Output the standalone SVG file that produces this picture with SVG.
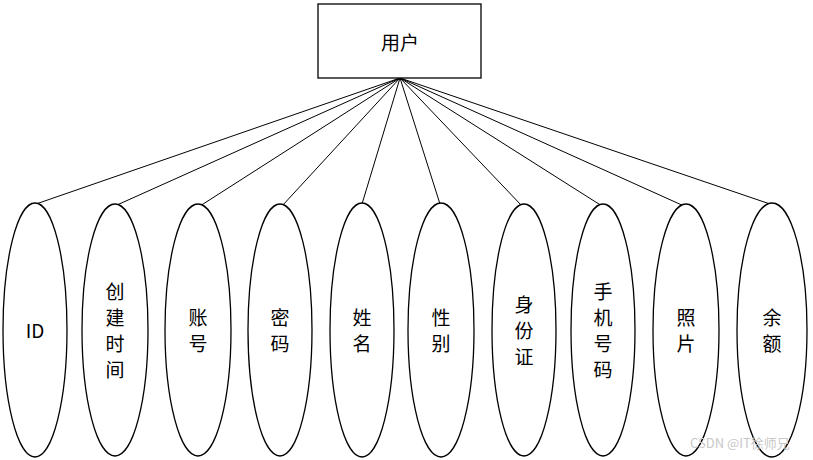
<svg xmlns="http://www.w3.org/2000/svg" width="813" height="460" viewBox="0 0 813 460">
<style>
.n{fill:#fff;stroke:#000;stroke-width:1.3}
.t{font-family:"Noto Sans CJK SC","Noto Sans",sans-serif;font-size:19px;text-anchor:middle;dominant-baseline:central}
.c line{stroke:#000;stroke-width:1}
</style>
<rect width="813" height="460" fill="#fff"/>
<g class="c">
<line x1="400" y1="78" x2="36" y2="204"/>
<line x1="400" y1="78" x2="117" y2="205"/>
<line x1="400" y1="78" x2="200" y2="206"/>
<line x1="400" y1="78" x2="282" y2="206"/>
<line x1="400" y1="78" x2="362" y2="204"/>
<line x1="400" y1="78" x2="440" y2="204"/>
<line x1="400" y1="78" x2="522" y2="206"/>
<line x1="400" y1="78" x2="602" y2="206"/>
<line x1="400" y1="78" x2="684" y2="206"/>
<line x1="400" y1="78" x2="770" y2="204"/>
</g>
<g id="user"><rect class="n" x="318" y="4" width="163" height="74"/><text class="t" x="400" y="41">用户</text></g>
<g id="e1"><ellipse class="n" cx="35" cy="330" rx="32" ry="127"/><text class="t" x="35" y="329">ID</text></g>
<g id="e2"><ellipse class="n" cx="115" cy="330" rx="33" ry="126"/><text class="t" x="115" y="290">创</text><text class="t" x="115" y="316">建</text><text class="t" x="115" y="342">时</text><text class="t" x="115" y="368">间</text></g>
<g id="e3"><ellipse class="n" cx="198" cy="330" rx="33" ry="126"/><text class="t" x="198" y="316">账</text><text class="t" x="198" y="342">号</text></g>
<g id="e4"><ellipse class="n" cx="280" cy="330" rx="32" ry="126"/><text class="t" x="280" y="316">密</text><text class="t" x="280" y="342">码</text></g>
<g id="e5"><ellipse class="n" cx="362" cy="330" rx="32" ry="127"/><text class="t" x="362" y="316">姓</text><text class="t" x="362" y="342">名</text></g>
<g id="e6"><ellipse class="n" cx="441" cy="330" rx="33" ry="127"/><text class="t" x="441" y="316">性</text><text class="t" x="441" y="342">别</text></g>
<g id="e7"><ellipse class="n" cx="524" cy="330" rx="32" ry="126"/><text class="t" x="524" y="303">身</text><text class="t" x="524" y="329">份</text><text class="t" x="524" y="355">证</text></g>
<g id="e8"><ellipse class="n" cx="603" cy="330" rx="32" ry="126"/><text class="t" x="603" y="290">手</text><text class="t" x="603" y="316">机</text><text class="t" x="603" y="342">号</text><text class="t" x="603" y="368">码</text></g>
<g id="e9"><ellipse class="n" cx="686" cy="330" rx="33" ry="126"/><text class="t" x="686" y="316">照</text><text class="t" x="686" y="342">片</text></g>
<g id="e10"><ellipse class="n" cx="772" cy="330" rx="35" ry="127"/><text class="t" x="772" y="316">余</text><text class="t" x="772" y="342">额</text></g>
<text x="690" y="448" font-family="'Noto Sans CJK SC',sans-serif" font-size="13" fill="#c8c8c8">CSDN @IT徐师兄</text>
</svg>
